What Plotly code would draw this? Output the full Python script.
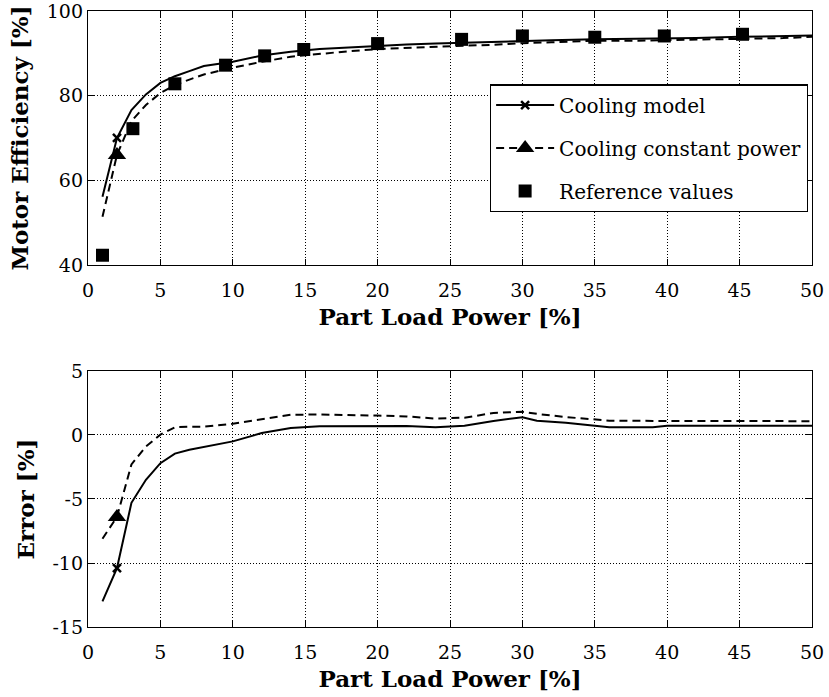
import plotly.graph_objects as go

# ---------------- data ----------------
x_model = [1, 2, 3, 4, 5, 6, 7, 8, 10, 12, 14, 16, 18, 20, 22, 24, 26, 28, 30, 32, 35, 38, 40, 42, 45, 48, 50]
eff_cooling_model = [56.1, 70.0, 76.6, 80.3, 83.0, 84.6, 85.8, 87.0, 88.0, 89.5, 90.4, 91.0, 91.4, 91.8,
                     92.1, 92.3, 92.5, 92.7, 93.0, 93.1, 93.3, 93.4, 93.5, 93.6, 93.9, 94.0, 94.2]
eff_cooling_const = [51.4, 66.0, 74.0, 77.8, 80.6, 82.5, 83.8, 85.0, 86.6, 88.0, 89.2, 89.9, 90.5, 91.0,
                     91.3, 91.6, 91.8, 92.0, 92.4, 92.6, 93.0, 93.0, 93.1, 93.2, 93.4, 93.6, 93.9]

ref_x = [1, 3.1, 6, 9.5, 12.2, 14.9, 20, 25.8, 30, 35, 39.8, 45.2]
ref_eff = [42.3, 72.2, 82.8, 87.2, 89.4, 90.9, 92.3, 93.3, 94.1, 93.8, 94.1, 94.5]

err_x = [1, 2, 3, 4, 5, 6, 7, 8, 10, 12, 14, 16, 18, 20, 22, 24, 26, 28, 30, 31, 33, 36, 39, 40, 42, 45, 48, 50]
err_cooling_model = [-13.0, -10.4, -5.3, -3.5, -2.2, -1.45, -1.15, -0.95, -0.5, 0.15, 0.55, 0.68, 0.7, 0.7,
                     0.7, 0.6, 0.72, 1.1, 1.38, 1.12, 0.95, 0.6, 0.6, 0.72, 0.72, 0.72, 0.72, 0.72]
err_cooling_const = [-8.1, -6.4, -2.3, -0.9, 0.03, 0.6, 0.65, 0.65, 0.88, 1.25, 1.58, 1.6, 1.58, 1.52,
                     1.45, 1.28, 1.35, 1.72, 1.82, 1.65, 1.4, 1.12, 1.1, 1.1, 1.08, 1.08, 1.08, 1.08]

marker_index = 1  # single marker drawn at this sample (x = 2)

x_ticks = [0, 5, 10, 15, 20, 25, 30, 35, 40, 45, 50]
eff_ticks = [40, 60, 80, 100]
err_ticks = [-15, -10, -5, 0, 5]
err_tick_text = ["-15", "-10", "-5", "0", "5"]

names = ["Cooling model", "Cooling constant power", "Reference values"]

# ---------------- figure ----------------
FAM = "DejaVu Serif"
TICK_FONT = dict(family=FAM, size=19, color="black")
TITLE_FONT = dict(family=FAM, size=23, color="black", weight="bold")
LEG_FONT = dict(family=FAM, size=20, color="black")

solid = dict(color="black", width=2)
dashed = dict(color="black", width=2, dash="8px,5px")

fig = go.Figure()

fig.add_trace(go.Scatter(x=x_model, y=eff_cooling_model, mode="lines", line=solid,
                         showlegend=False, xaxis="x", yaxis="y"))
fig.add_trace(go.Scatter(x=x_model, y=eff_cooling_const, mode="lines", line=dashed,
                         showlegend=False, xaxis="x", yaxis="y"))
fig.add_trace(go.Scatter(x=[x_model[marker_index]], y=[eff_cooling_model[marker_index]],
                         mode="lines+markers", line=solid, name=names[0], legendgroup="a",
                         marker=dict(symbol="x-thin", size=8, line=dict(color="black", width=2.5)),
                         xaxis="x", yaxis="y"))
fig.add_trace(go.Scatter(x=[x_model[marker_index]], y=[eff_cooling_const[marker_index]],
                         mode="lines+markers", line=dashed, name=names[1], legendgroup="b",
                         marker=dict(symbol="triangle-up", size=16, color="black"),
                         xaxis="x", yaxis="y"))
fig.add_trace(go.Scatter(x=ref_x, y=ref_eff, mode="markers", name=names[2], legendgroup="c",
                         marker=dict(symbol="square", size=13, color="black"),
                         xaxis="x", yaxis="y"))

fig.add_trace(go.Scatter(x=err_x, y=err_cooling_model, mode="lines", line=solid,
                         showlegend=False, xaxis="x2", yaxis="y2"))
fig.add_trace(go.Scatter(x=err_x, y=err_cooling_const, mode="lines", line=dashed,
                         showlegend=False, xaxis="x2", yaxis="y2"))
fig.add_trace(go.Scatter(x=[err_x[marker_index]], y=[err_cooling_model[marker_index]], mode="markers",
                         marker=dict(symbol="x-thin", size=8, line=dict(color="black", width=2.5)),
                         showlegend=False, xaxis="x2", yaxis="y2"))
fig.add_trace(go.Scatter(x=[err_x[marker_index]], y=[err_cooling_const[marker_index]], mode="markers",
                         marker=dict(symbol="triangle-up", size=16, color="black"),
                         showlegend=False, xaxis="x2", yaxis="y2"))

axis_common = dict(
    showline=True, linecolor="black", linewidth=1.3, mirror="ticks",
    ticks="inside", ticklen=6, tickwidth=1.3, tickcolor="black",
    showgrid=True, gridcolor="black", gridwidth=1, griddash="1px,2px",
    zeroline=False, tickfont=TICK_FONT, automargin=False, ticklabeloverflow="allow",
)
xaxis_extra = dict(ticklabelstandoff=8)

fig.update_layout(
    width=829, height=697,
    margin=dict(l=88, r=17, t=11, b=70),
    paper_bgcolor="white", plot_bgcolor="white",
    font=dict(family=FAM, color="black"),
    xaxis=dict(domain=[0, 1], anchor="y", range=[0, 50], tickvals=x_ticks,
               title=dict(text="Part Load Power [%]", font=TITLE_FONT, standoff=8),
               **axis_common, **xaxis_extra),
    yaxis=dict(domain=[0.5877, 1], anchor="x", range=[40, 100], tickvals=eff_ticks,
               title=dict(text="Motor Efficiency [%]", font=TITLE_FONT, standoff=11), **axis_common),
    xaxis2=dict(domain=[0, 1], anchor="y2", range=[0, 50], tickvals=x_ticks,
                title=dict(text="Part Load Power [%]", font=TITLE_FONT, standoff=8),
                **axis_common, **xaxis_extra),
    yaxis2=dict(domain=[0, 0.4156], anchor="x2", range=[-15, 5], tickvals=err_ticks,
                ticktext=err_tick_text,
                title=dict(text="Error [%]", font=TITLE_FONT, standoff=11), **axis_common),
    legend=dict(x=0.555, y=0.881, xanchor="left", yanchor="top",
                bgcolor="white", bordercolor="black", borderwidth=1.3,
                font=LEG_FONT, traceorder="grouped", tracegroupgap=14,
                itemwidth=58),
)

# remove the default 8px page margin so the figure fills the window exactly
fig.write_html("out.html", config={"displayModeBar": False},
               post_script="document.body.style.margin='0';")
